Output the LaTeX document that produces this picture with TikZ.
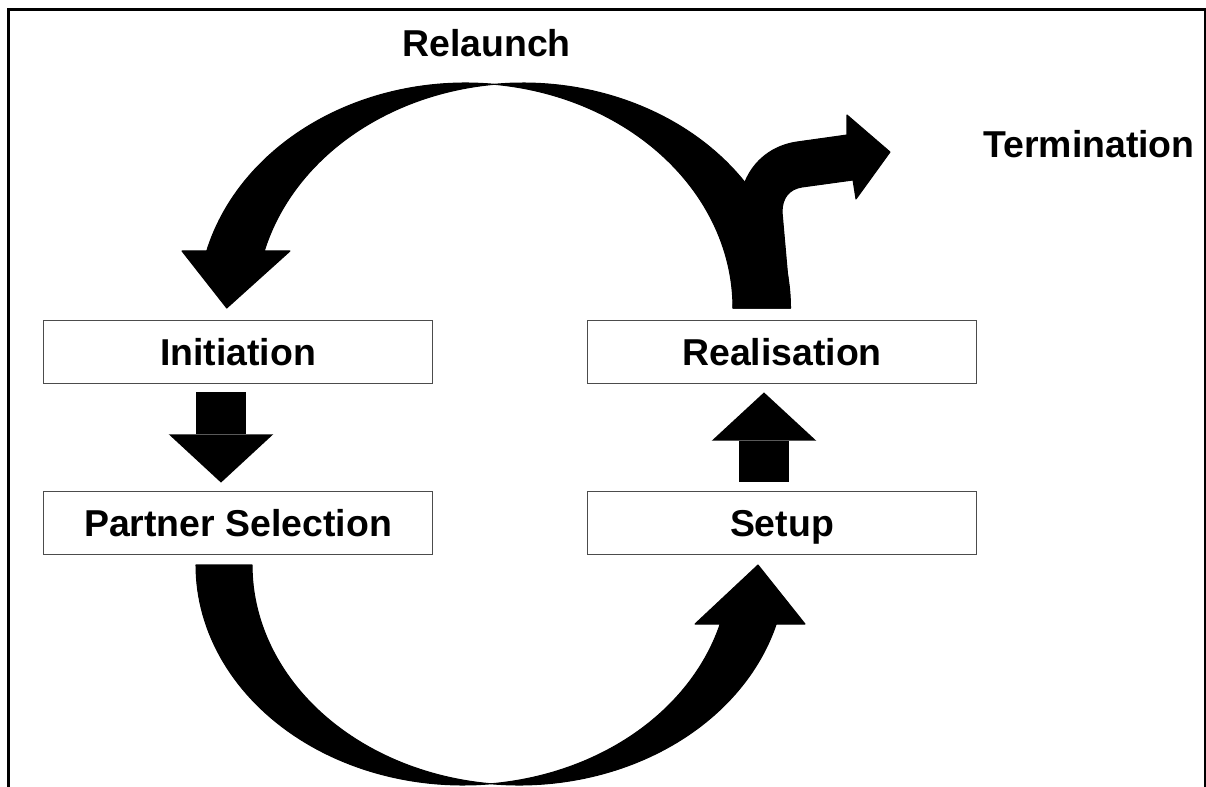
\documentclass[tikz,border=0pt]{standalone}
\usepackage{fontspec}
\setmainfont{Liberation Sans}
\usetikzlibrary{arrows.meta,calc}

\begin{document}
\begin{tikzpicture}[x=0.02cm,y=-0.02cm,
  stage/.style={draw=black!70, line width=0.6pt, fill=white,
    minimum width=221.1pt, minimum height=36.3pt, inner sep=0pt,
    text height=15.2pt, text depth=0pt,
    font=\fontsize{21.3}{25}\selectfont\bfseries},
  tagtext/.style={font=\fontsize{21.3}{25}\selectfont\bfseries, inner sep=0pt, anchor=base},
  blockarrow/.style={line width=29pt,
    -{Triangle[length=27.5pt, width=59.5pt, line width=0pt]}},
  bigarrow/.style={fill=black, draw=black, line width=0.6pt, line join=round},
]
\useasboundingbox (0,0) rectangle (1206,787);

% outer frame (open at the bottom)
\draw[line width=1.2pt] (8.5,787) -- (8.5,9.5) -- (1205,9.5) -- (1205,787);

% phases
\node[stage] (init)    at (238,352) {Initiation};
\node[stage] (partner) at (238,523) {Partner Selection};
\node[stage] (real)    at (782,352) {Realisation};
\node[stage] (setup)   at (782,523) {Setup};

\node[tagtext] (relaunch) at (486.5,56.7) {Relaunch};
\node[tagtext] (term)     at (1089,158)  {Termination};

% straight block arrows between the stacked phases
\draw[blockarrow] ($(init.south)+(-17,8)$) -- ($(partner.north)+(-17,-8)$);
\draw[blockarrow] ($(setup.north)+(-18,-9)$) -- ($(real.south)+(-18,8)$);

% relaunch loop: left half with the arrow head
\filldraw[bigarrow]
  plot[domain=83.83:165.32, samples=60] ({465.5+267.5*cos(\x)},{308-225*sin(\x)})
  -- (182,251) -- (226.75,308) -- (290,251)
  -- plot[domain=165.32:96.17, samples=60] ({523+267.5*cos(\x)},{308-225*sin(\x)})
  -- cycle;
% relaunch loop: right half rising from Realisation
\filldraw[bigarrow]
  plot[domain=96.17:0, samples=60] ({523+267.5*cos(\x)},{308-225*sin(\x)})
  -- plot[domain=0:83.83, samples=60] ({465.5+267.5*cos(\x)},{308-225*sin(\x)})
  -- cycle;

% branch towards termination
\filldraw[bigarrow]
  (733,308) -- (790.5,308) -- (782,212)
  .. controls (782,198) and (789,189) .. (802,187)
  -- (853,180) -- (856,199) -- (890,152) -- (847,115) -- (847,135) -- (797,142)
  .. controls (773,145.5) and (754,160) .. (745,182)
  -- (738,240) -- cycle;

% lower loop: tail under Partner Selection
\filldraw[bigarrow]
  plot[domain=83.98:180, samples=60] ({463+267*cos(\x)},{565+220*sin(\x)})
  -- plot[domain=180:96.02, samples=60] ({519+267*cos(\x)},{565+220*sin(\x)})
  -- cycle;
% lower loop: head pointing up to Setup
\filldraw[bigarrow]
  plot[domain=83.98:15.56, samples=60] ({463+267*cos(\x)},{565+220*sin(\x)})
  -- (695,624) -- (758,565) -- (805,624)
  -- plot[domain=15.56:96.02, samples=60] ({519+267*cos(\x)},{565+220*sin(\x)})
  -- cycle;
\end{tikzpicture}
\end{document}
